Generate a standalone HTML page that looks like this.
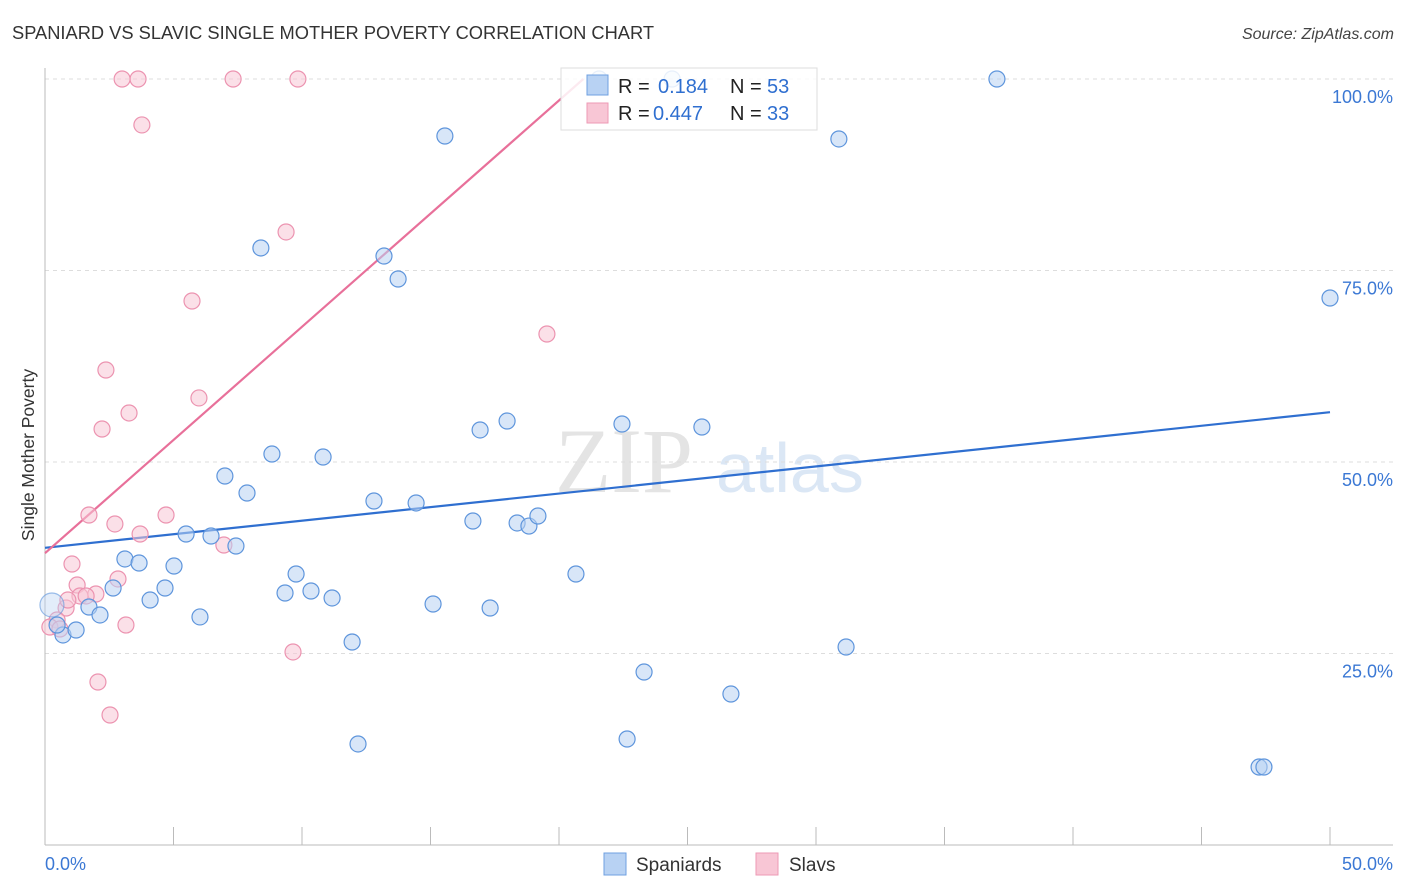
<!DOCTYPE html>
<html><head><meta charset="utf-8"><style>
body{margin:0;background:#fff;font-family:"Liberation Sans",sans-serif}
svg{display:block}
</style></head><body>
<svg id="chart" width="1406" height="892" xmlns="http://www.w3.org/2000/svg">
<text x="12" y="39" font-size="18.3" fill="#333">SPANIARD VS SLAVIC SINGLE MOTHER POVERTY CORRELATION CHART</text>
<text x="1394" y="39" font-size="16" font-style="italic" fill="#444" text-anchor="end">Source: ZipAtlas.com</text>
<g>
<text x="555" y="492" font-family="Liberation Serif,serif" font-size="92" fill="#e4e4e4">ZIP</text>
<text x="716" y="492" font-size="70" fill="#dbe7f5">atlas</text>
</g>
<g id="grid"></g>
<g id="axes"></g>
<text transform="translate(34,455) rotate(-90)" font-size="17.5" fill="#333" text-anchor="middle">Single Mother Poverty</text>
<g id="lines"></g>
<g id="points"></g>
<g>
<rect x="561" y="68" width="256" height="62" fill="#fff" fill-opacity="0.85" stroke="#ddd"/>
<rect x="587" y="75" width="21" height="20" fill="#b8d2f3" stroke="#6fa0e0"/>
<text x="618" y="93" font-size="20" fill="#222">R = </text><text x="658" y="93" font-size="20" fill="#2f6fd0">0.184</text>
<text x="730" y="93" font-size="20" fill="#222">N = </text><text x="767" y="93" font-size="20" fill="#2f6fd0">53</text>
<rect x="587" y="103" width="21" height="20" fill="#f8c6d5" stroke="#ee9ab5"/>
<text x="618" y="120" font-size="20" fill="#222">R = </text><text x="653" y="120" font-size="20" fill="#2f6fd0">0.447</text>
<text x="730" y="120" font-size="20" fill="#222">N = </text><text x="767" y="120" font-size="20" fill="#2f6fd0">33</text>
</g>
<g>
<rect x="604" y="853" width="22" height="22" fill="#b8d2f3" stroke="#6fa0e0"/>
<text x="636" y="871" font-size="19" fill="#333">Spaniards</text>
<rect x="756" y="853" width="22" height="22" fill="#f8c6d5" stroke="#ee9ab5"/>
<text x="789" y="871" font-size="19" fill="#333">Slavs</text>
</g>
</svg>
<script>
const blueX=[21.56,24.4,37.04,15.56,30.89,8.40,13.19,13.74,50.0,17.98,16.93,22.45,25.56,8.83,10.82,7.00,7.86,12.80,14.44,16.65,18.37,18.83,19.18,5.49,6.46,7.43,3.11,3.66,5.02,9.77,20.66,2.65,4.67,4.09,9.34,10.35,11.17,15.10,17.32,1.71,2.14,6.03,0.27,0.70,1.21,11.95,31.17,23.31,26.69,12.18,22.65,47.24,47.43,0.47];
const blueY=[100,100,100,92.56,92.17,77.94,76.89,73.89,71.41,55.35,54.18,54.96,54.57,51.04,50.65,48.17,45.95,44.91,44.65,42.30,42.04,41.64,42.95,40.60,40.34,39.03,37.34,36.81,36.42,35.38,35.38,33.55,33.55,31.98,32.90,33.16,32.25,31.46,30.94,31.07,30.03,29.77,31.33,27.42,28.07,26.50,25.85,22.58,19.71,13.19,13.84,10.18,10.18,28.72];
const pinkX=[3.00,3.62,7.32,9.84,3.77,9.38,5.72,19.53,2.37,3.27,2.22,5.99,1.71,4.71,2.72,3.70,6.96,1.05,1.25,2.84,1.98,1.36,1.60,0.82,0.89,0.47,0.19,0.58,3.15,9.65,2.06,2.53];
const pinkY=[100,100,100,100,94.0,80.03,71.02,66.71,62.01,56.40,54.31,58.36,43.08,43.08,41.91,40.60,39.16,36.68,33.94,34.73,32.77,32.51,32.51,30.94,31.98,29.37,28.46,28.20,28.72,25.20,21.28,16.97];
const blueTrend=[38.8,56.5];
const pinkTrend=[38.1,2.955];
const yTicks=[25,50,75,100];
const xTickVals=[0,5,10,15,20,25,30,35,40,45,50];
const NS="http://www.w3.org/2000/svg";
const X=v=>45+v*25.7, Y=v=>845-v*7.66;
function mk(p,t,a){const e=document.createElementNS(NS,t);for(const k in a)e.setAttribute(k,a[k]);p.appendChild(e);return e;}
const grid=document.getElementById('grid'),axes=document.getElementById('axes'),lines=document.getElementById('lines'),pts=document.getElementById('points');
yTicks.forEach(t=>{
 const l=mk(grid,'line',{x1:45,x2:1393,y1:Y(t),y2:Y(t),stroke:'#ddd','stroke-dasharray':'4,4'});
 
 
 const tx=mk(axes,'text',{x:1393,y:Y(t)+24,'font-size':18,fill:'#3b78d4','text-anchor':'end'});
 tx.textContent=t.toFixed(1)+'%';
 
 
});
let a=mk(axes,'line',{x1:45,x2:45,y1:68,y2:845,stroke:'#bbb'});

a=mk(axes,'line',{x1:45,x2:1393,y1:845,y2:845,stroke:'#bbb'});

xTickVals.forEach(t=>{
 const l=mk(axes,'line',{x1:X(t),x2:X(t),y1:827,y2:845,stroke:'#bbb'});
 
 
});
[[0,'start'],[50,'end']].forEach(([t,an])=>{
 const tx=mk(axes,'text',{x:t==0?45:1393,y:870,'font-size':18,fill:'#3b78d4','text-anchor':an});
 tx.textContent=t.toFixed(1)+'%';
 
 
});
function dots(xs,ys,fill,stroke,name){xs.forEach((x,i)=>{
 const big=(x<0.5&&ys[i]>30&&ys[i]<32);
 const c=mk(pts,'circle',{cx:X(x),cy:Y(ys[i]),r:big?12:8,fill:fill,'fill-opacity':big?0.4:0.55,stroke:stroke,'stroke-width':1.2,'stroke-opacity':big?0.6:1});
 
 
});}
let bl=mk(lines,'line',{x1:X(0),y1:Y(blueTrend[0]),x2:X(50),y2:Y(blueTrend[1]),stroke:'#2f6fd0','stroke-width':2.2});

const pe=(100-pinkTrend[0])/pinkTrend[1];
let pl=mk(lines,'line',{x1:X(0),y1:Y(pinkTrend[0]),x2:X(pe),y2:Y(100),stroke:'#e8709a','stroke-width':2.2});

dots(pinkX,pinkY,'#f8c6d5','#ec93b0','slavs-point');
dots(blueX,blueY,'#b8d2f3','#5e95dc','spaniards-point');
</script>
</body></html>
